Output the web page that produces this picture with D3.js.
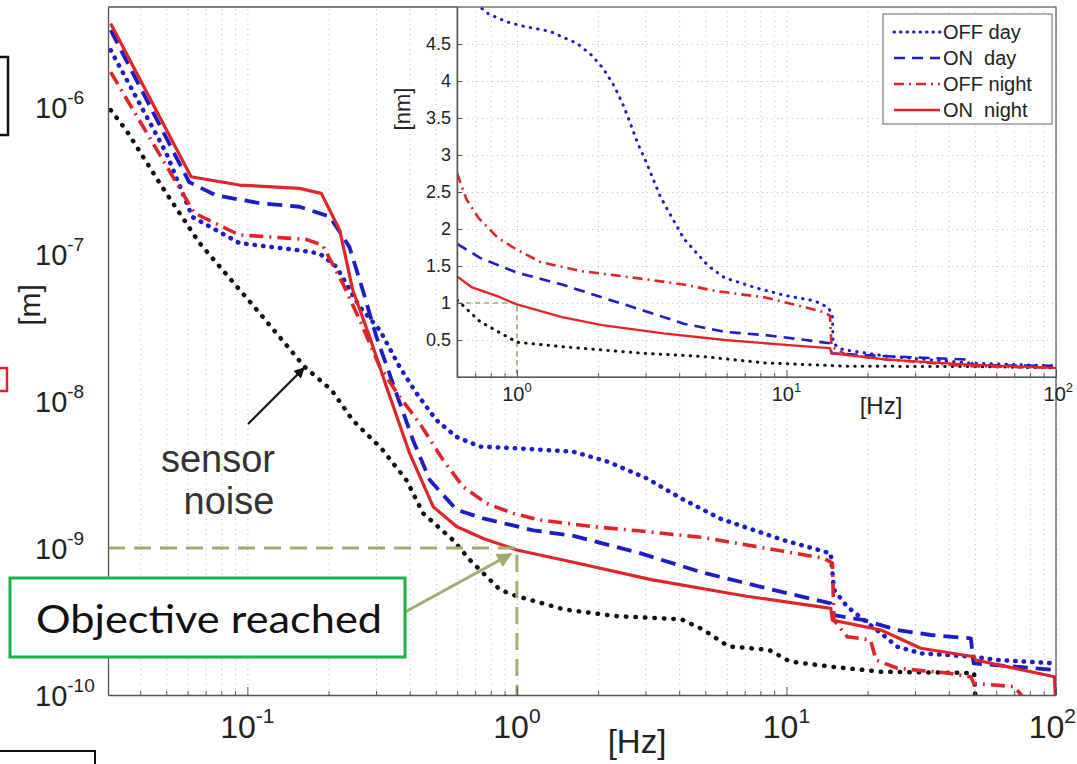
<!DOCTYPE html>
<html>
<head>
<meta charset="utf-8">
<script src="https://cdn.jsdelivr.net/npm/d3@7"></script>
<style>
body{margin:0;background:#fff}
svg{display:block;font-family:"Liberation Sans",Arial,sans-serif}
</style>
</head>
<body>
<div id="chart"></div>
<script>
"use strict";

// Main plot: [frequency Hz, displacement m]
var offDay = [[0.0311,2.44e-6],[0.0374,1.31e-6],[0.05,4.87e-7],[0.0625,1.79e-7],[0.0933,1.19e-7],[0.156,1.06e-7],[0.185,1.01e-7],[0.214,8.2e-8],[0.261,4.38e-8],[0.31,3.04e-8],[0.367,1.71e-8],[0.424,1.13e-8],[0.503,7.4e-9],[0.597,5.7e-9],[0.729,4.9e-9],[1.0,4.77e-9],[1.62,4.52e-9],[2.18,3.86e-9],[3.04,2.97e-9],[4.08,2.17e-9],[5.7,1.58e-9],[9.77,1.13e-9],[14.6,9.2e-10],[15.0,5.2e-10],[16.8,3.99e-10],[22.4,2.63e-10],[25.8,2.13e-10],[31.5,1.92e-10],[49.7,1.82e-10],[60.7,1.73e-10],[100,1.64e-10]];
var onDay = [[0.0311,3.34e-6],[0.0608,3.09e-7],[0.076,2.52e-7],[0.111,2.22e-7],[0.156,2.1e-7],[0.202,1.8e-7],[0.239,1.12e-7],[0.268,5.69e-8],[0.301,2.74e-8],[0.357,1.13e-8],[0.412,5.4e-9],[0.475,2.9e-9],[0.597,1.82e-9],[0.75,1.59e-9],[1.15,1.32e-9],[1.62,1.21e-9],[2.82,9.3e-10],[4.9,6.8e-10],[9.5,5.05e-10],[14.6,4.2e-10],[15.0,3.5e-10],[19.4,3.23e-10],[25.8,2.77e-10],[34.3,2.56e-10],[48.3,2.43e-10],[49.5,1.64e-10],[70,1.56e-10],[100,1.48e-10]];
var offNight = [[0.0311,1.73e-6],[0.0636,1.9e-7],[0.0933,1.35e-7],[0.165,1.26e-7],[0.19,1.15e-7],[0.226,6.3e-8],[0.261,3.56e-8],[0.31,1.71e-8],[0.367,1.07e-8],[0.436,7.05e-9],[0.532,3.97e-9],[0.632,2.61e-9],[0.772,2.01e-9],[0.97,1.72e-9],[1.22,1.55e-9],[1.9,1.4e-9],[2.82,1.31e-9],[4.9,1.18e-9],[9.77,9.5e-10],[13.8,8.5e-10],[14.8,7.9e-10],[15.0,3.23e-10],[16.8,2.49e-10],[20.5,2.37e-10],[21.5,1.73e-10],[25.8,1.52e-10],[39.6,1.41e-10],[48.3,1.33e-10],[49.5,1.2e-10],[70,1.14e-10],[76,9.5e-11]];
var onNight = [[0.0311,3.7e-6],[0.0618,3.36e-7],[0.0933,2.95e-7],[0.156,2.8e-7],[0.188,2.59e-7],[0.22,1.46e-7],[0.246,5.69e-8],[0.284,2.74e-8],[0.328,1.25e-8],[0.40,4.4e-9],[0.489,1.91e-9],[0.597,1.4e-9],[0.75,1.16e-9],[1.0,9.7e-10],[1.62,8.0e-10],[3.15,6.1e-10],[7.1,4.7e-10],[14.6,3.89e-10],[14.8,3.23e-10],[22.4,2.77e-10],[31.5,2.08e-10],[49.7,1.82e-10],[50.3,1.73e-10],[80.7,1.44e-10],[98.6,1.33e-10],[100,8e-11]];
var sensorNoise = [[0.0311,9.55e-7],[0.0355,6.98e-7],[0.0483,2.86e-7],[0.0664,1.19e-7],[0.111,3.97e-8],[0.163,1.71e-8],[0.205,1.19e-8],[0.246,7.4e-9],[0.314,4.77e-9],[0.389,2.9e-9],[0.449,1.72e-9],[0.58,1.13e-9],[0.669,8.3e-10],[0.865,5.2e-10],[1.0,4.7e-10],[1.5,3.82e-10],[2.34,3.44e-10],[4.08,3.27e-10],[4.9,2.79e-10],[6.1,2.14e-10],[8.6,2.03e-10],[10.3,1.69e-10],[14.6,1.56e-10],[22.4,1.44e-10],[49.7,1.41e-10],[50.3,9e-11]];

// Inset: [frequency Hz, displacement nm]
var inOffDay = [[0.6,5.6],[0.729,5.0],[0.782,4.91],[0.915,4.8],[1.056,4.74],[1.33,4.67],[1.55,4.56],[1.67,4.51],[1.89,4.35],[2.09,4.17],[2.28,3.95],[2.45,3.72],[2.59,3.5],[2.82,3.14],[3.03,2.89],[3.4,2.44],[4.16,1.87],[5.13,1.5],[5.9,1.34],[7.78,1.2],[9.93,1.1],[12.7,1.03],[14.3,0.94],[14.8,0.83],[14.9,0.45],[16.2,0.37],[23.7,0.28],[47.5,0.19],[100,0.15]];
var inOnDay = [[0.6,1.8],[0.73,1.61],[1.0,1.41],[1.47,1.25],[2.07,1.075],[2.94,0.9],[4.16,0.72],[5.9,0.61],[8.35,0.566],[11.8,0.5],[14.5,0.455],[14.7,0.32],[23.7,0.28],[47.5,0.235],[49.5,0.16],[100,0.15]];
var inOffNight = [[0.6,2.75],[0.65,2.4],[0.72,2.15],[0.85,1.88],[1.0,1.72],[1.23,1.55],[1.74,1.43],[2.74,1.34],[4.16,1.25],[5.5,1.16],[8.35,1.075],[11.8,0.94],[13.6,0.88],[14.5,0.83],[14.7,0.41],[16.7,0.3],[23.7,0.235],[47.5,0.146],[100,0.124]];
var inOnNight = [[0.6,1.36],[0.682,1.21],[0.87,1.075],[1.0,0.98],[1.47,0.81],[2.07,0.7],[3.5,0.59],[5.9,0.5],[9.93,0.434],[14.5,0.39],[14.7,0.32],[23.7,0.235],[47.5,0.168],[100,0.124]];
var inNoise = [[0.6,1.04],[0.729,0.75],[1.0,0.47],[1.47,0.41],[2.94,0.32],[4.78,0.28],[8.35,0.19],[16.7,0.146],[50,0.14],[100,0.124]];

var seriesNames = ["OFF day", "ON  day", "OFF night", "ON  night"];
var xTickExp = [-1, 0, 1, 2];
var yTickExp = [-6, -7, -8, -9, -10];
var insetYTicks = [0.5, 1, 1.5, 2, 2.5, 3, 3.5, 4, 4.5];
var insetXTickExp = [0, 1, 2];

var W = 1077, H = 764;
var mL = 108, mT = 7, mR = 1056, mB = 695;
var iB = 377;
var BLUE = "#1c1cc8", RED = "#e0242a", OLIVE = "#9fae6f";

var svg = d3.select("#chart").append("svg").attr("width", W).attr("height", H);

var x = d3.scaleLog().domain([0.0304, 100]).range([mL, mR]);
var y = d3.scaleLog().domain([1e-10, 4.8e-6]).range([mB, mT]);
var xi = d3.scaleLog().domain([0.6, 100]).range([x(0.6), mR]);
var yi = d3.scaleLinear().domain([0, 5]).range([iB, mT]);

function logTicks(lo, hi) {
	var out = [];
	for (var e = -3; e <= 2; e++)
		for (var k = 1; k <= 9; k++) {
			var v = k * Math.pow(10, e);
			if (v >= lo * 0.999 && v <= hi * 1.001) out.push(v);
		}
	return out;
}
function isMajor(v) { return Math.abs(Math.log10(v) - Math.round(Math.log10(v))) < 1e-6; }

var defs = svg.append("defs");
defs.append("clipPath").attr("id", "clipMain").append("rect")
	.attr("x", mL).attr("y", mT).attr("width", mR - mL).attr("height", mB - mT);
defs.append("clipPath").attr("id", "clipInset").append("rect")
	.attr("x", xi.range()[0]).attr("y", mT).attr("width", mR - xi.range()[0]).attr("height", iB - mT);

// Partial slide boxes on the left edge
svg.append("rect").attr("x", -60).attr("y", 57).attr("width", 68).attr("height", 78)
	.attr("fill", "none").attr("stroke", "#111").attr("stroke-width", 2.5);
svg.append("rect").attr("x", -30).attr("y", 368).attr("width", 37).attr("height", 23)
	.attr("fill", "none").attr("stroke", "#e8202a").attr("stroke-width", 2.5);
svg.append("rect").attr("x", -10).attr("y", 751).attr("width", 105).attr("height", 60)
	.attr("fill", "none").attr("stroke", "#111").attr("stroke-width", 2);

// Main grid
var xAll = logTicks(0.0304, 100), yAll = logTicks(1e-10, 4.8e-6);
var gGrid = svg.append("g");
gGrid.append("g").attr("transform", "translate(0," + mB + ")")
	.call(d3.axisBottom(x).tickValues(xAll).tickSize(-(mB - mT)).tickFormat(""));
gGrid.append("g").attr("transform", "translate(" + mL + ",0)")
	.call(d3.axisLeft(y).tickValues(yAll).tickSize(-(mR - mL)).tickFormat(""));
gGrid.selectAll(".domain").remove();
gGrid.selectAll(".tick line").attr("stroke", "#b8b8b8").attr("stroke-dasharray", "1 4");

// Main curves
var lineMain = d3.line().x(function(d){ return x(d[0]); }).y(function(d){ return y(d[1]); });
var gMain = svg.append("g").attr("clip-path", "url(#clipMain)");
var mainStyles = [
	{data: sensorNoise, color: "#111", w: 4.5, dash: "0.5 9", cap: "round"},
	{data: offDay, color: BLUE, w: 4.5, dash: "0.5 8", cap: "round"},
	{data: onDay, color: BLUE, w: 3.8, dash: "15 8", cap: "butt"},
	{data: offNight, color: RED, w: 3.6, dash: "14 6 2 6", cap: "butt"},
	{data: onNight, color: RED, w: 3.2, dash: null, cap: "butt"}
];
mainStyles.forEach(function(s){
	gMain.append("path").datum(s.data).attr("d", lineMain)
		.attr("fill", "none").attr("stroke", s.color).attr("stroke-width", s.w)
		.attr("stroke-dasharray", s.dash).attr("stroke-linecap", s.cap)
		.attr("stroke-linejoin", "round");
});

// Objective lines
svg.append("path")
	.attr("d", "M" + mL + "," + y(1e-9) + "H" + x(1) + "V" + mB)
	.attr("fill", "none").attr("stroke", OLIVE).attr("stroke-width", 3).attr("stroke-dasharray", "17 9");

// Main axes with inward ticks
var gAx = svg.append("g");
var bx = gAx.append("g").attr("transform", "translate(0," + mB + ")")
	.call(d3.axisBottom(x).tickValues(xAll).tickSizeOuter(0).tickFormat(""));
bx.selectAll(".tick line").attr("y2", function(d){ return isMajor(d) ? -8 : -4; });
var ly = gAx.append("g").attr("transform", "translate(" + mL + ",0)")
	.call(d3.axisLeft(y).tickValues(yAll).tickSizeOuter(0).tickFormat(""));
ly.selectAll(".tick line").attr("x2", function(d){ return isMajor(d) ? 8 : 4; });
gAx.selectAll(".domain").attr("stroke", "#555").attr("stroke-width", 1.3);
gAx.selectAll(".tick line").attr("stroke", "#555");
gAx.append("line").attr("x1", mL).attr("x2", xi.range()[0]).attr("y1", mT).attr("y2", mT).attr("stroke", "#555").attr("stroke-width", 1.3);
gAx.append("line").attr("x1", mR).attr("x2", mR).attr("y1", iB).attr("y2", mB).attr("stroke", "#555").attr("stroke-width", 1.3);

// Tick labels
var xl = svg.append("g").attr("fill", "#222");
xTickExp.forEach(function(e){
	var last = e === 2;
	var t = xl.append("text").attr("x", last ? W - 1 : x(Math.pow(10, e))).attr("y", 738)
		.attr("text-anchor", last ? "end" : "middle").attr("font-size", 32);
	t.append("tspan").text("10");
	t.append("tspan").attr("dy", -15).attr("font-size", 21).text(e);
});
yTickExp.forEach(function(e){
	var t = xl.append("text").attr("x", 35).attr("y", y(Math.pow(10, e)) + 11)
		.attr("font-size", 29);
	t.append("tspan").text("10");
	t.append("tspan").attr("dy", -14).attr("font-size", 19).text(e);
});
xl.append("text").attr("x", 637).attr("y", 753).attr("text-anchor", "middle")
	.attr("font-size", 33).text("[Hz]");
xl.append("text").attr("transform", "translate(40,305) rotate(-90)").attr("text-anchor", "middle")
	.attr("font-size", 30).text("[m]");

// Sensor noise annotation
defs.append("marker").attr("id", "arrBlack").attr("viewBox", "0 0 10 10").attr("refX", 9).attr("refY", 5)
	.attr("markerWidth", 5).attr("markerHeight", 5).attr("orient", "auto")
	.append("path").attr("d", "M0,0L10,5L0,10z").attr("fill", "#111");
svg.append("line").attr("x1", 248).attr("y1", 424).attr("x2", 304).attr("y2", 368)
	.attr("stroke", "#111").attr("stroke-width", 2.2).attr("marker-end", "url(#arrBlack)");
svg.append("text").attr("x", 218).attr("y", 472).attr("text-anchor", "middle")
	.attr("font-size", 38).attr("fill", "#333").text("sensor");
svg.append("text").attr("x", 229).attr("y", 514).attr("text-anchor", "middle")
	.attr("font-size", 38).attr("fill", "#333").text("noise");

// Objective reached annotation
defs.append("marker").attr("id", "arrOlive").attr("viewBox", "0 0 10 10").attr("refX", 9).attr("refY", 5)
	.attr("markerWidth", 5).attr("markerHeight", 5).attr("orient", "auto")
	.append("path").attr("d", "M0,0L10,5L0,10z").attr("fill", OLIVE);
svg.append("line").attr("x1", 405).attr("y1", 612).attr("x2", x(1) - 6).attr("y2", y(1e-9) + 6)
	.attr("stroke", OLIVE).attr("stroke-width", 3).attr("marker-end", "url(#arrOlive)");
svg.append("rect").attr("x", 10).attr("y", 578).attr("width", 395).attr("height", 79)
	.attr("fill", "#fff").attr("stroke", "#1fb04c").attr("stroke-width", 3);
svg.append("text").attr("x", 36).attr("y", 633).attr("font-family", "Lato, 'Open Sans', sans-serif")
	.attr("font-size", 38).attr("fill", "#111").attr("textLength", 346).attr("lengthAdjust", "spacingAndGlyphs")
	.text("Objective reached");

// Inset
var iL = xi.range()[0];
svg.append("rect").attr("x", iL).attr("y", mT).attr("width", mR - iL).attr("height", iB - mT).attr("fill", "#fff");
var xiAll = logTicks(0.6, 100);
var gIG = svg.append("g");
gIG.append("g").attr("transform", "translate(0," + iB + ")")
	.call(d3.axisBottom(xi).tickValues(xiAll).tickSize(-(iB - mT)).tickFormat(""));
gIG.append("g").attr("transform", "translate(" + iL + ",0)")
	.call(d3.axisLeft(yi).tickValues(insetYTicks).tickSize(-(mR - iL)).tickFormat(""));
gIG.selectAll(".domain").remove();
gIG.selectAll(".tick line").attr("stroke", "#bdbdbd").attr("stroke-dasharray", "1 4");

var lineInset = d3.line().x(function(d){ return xi(d[0]); }).y(function(d){ return yi(d[1]); });
var gIn = svg.append("g").attr("clip-path", "url(#clipInset)");
var insetStyles = [
	{data: inNoise, color: "#111", w: 3, dash: "0.5 7", cap: "round"},
	{data: inOffDay, color: BLUE, w: 3, dash: "0.5 7", cap: "round"},
	{data: inOnDay, color: BLUE, w: 2.6, dash: "11 7", cap: "butt"},
	{data: inOffNight, color: RED, w: 2.6, dash: "10 5 2 5", cap: "butt"},
	{data: inOnNight, color: RED, w: 2.3, dash: null, cap: "butt"}
];
gIn.append("path")
	.attr("d", "M" + iL + "," + yi(1) + "H" + xi(1) + "V" + iB)
	.attr("fill", "none").attr("stroke", OLIVE).attr("stroke-width", 1.6).attr("stroke-dasharray", "5 4");
insetStyles.forEach(function(s){
	gIn.append("path").datum(s.data).attr("d", lineInset)
		.attr("fill", "none").attr("stroke", s.color).attr("stroke-width", s.w)
		.attr("stroke-dasharray", s.dash).attr("stroke-linecap", s.cap)
		.attr("stroke-linejoin", "round");
});

var gIA = svg.append("g");
var ibx = gIA.append("g").attr("transform", "translate(0," + iB + ")")
	.call(d3.axisBottom(xi).tickValues(xiAll).tickSizeOuter(0).tickFormat(""));
ibx.selectAll(".tick line").attr("y2", function(d){ return isMajor(d) ? -7 : -4; });
var ily = gIA.append("g").attr("transform", "translate(" + iL + ",0)")
	.call(d3.axisLeft(yi).tickValues(insetYTicks).tickSizeOuter(0).tickFormat(""));
ily.selectAll(".tick line").attr("x2", 5);
gIA.selectAll(".domain").attr("stroke", "#555").attr("stroke-width", 1.2);
gIA.selectAll(".tick line").attr("stroke", "#555");
gIA.append("rect").attr("x", iL).attr("y", mT).attr("width", mR - iL).attr("height", iB - mT)
	.attr("fill", "none").attr("stroke", "#555").attr("stroke-width", 1.2);

var il = svg.append("g").attr("fill", "#222");
insetYTicks.forEach(function(v){
	il.append("text").attr("x", iL - 6).attr("y", yi(v) + 6).attr("text-anchor", "end")
		.attr("font-size", 18).text(v);
});
insetXTickExp.forEach(function(e){
	var last = e === 2;
	var t = il.append("text").attr("x", last ? W - 4 : xi(Math.pow(10, e))).attr("y", 401)
		.attr("text-anchor", last ? "end" : "middle").attr("font-size", 20);
	t.append("tspan").text("10");
	t.append("tspan").attr("dy", -9).attr("font-size", 13).text(e);
});
il.append("text").attr("x", 881).attr("y", 414).attr("text-anchor", "middle")
	.attr("font-size", 24).text("[Hz]");
il.append("text").attr("transform", "translate(410,109) rotate(-90)").attr("text-anchor", "middle")
	.attr("font-size", 22).text("[nm]");

// Legend
var lg = svg.append("g");
lg.append("rect").attr("x", 883).attr("y", 14).attr("width", 169).attr("height", 110)
	.attr("fill", "#fff").attr("stroke", "#666").attr("stroke-width", 1);
var legStyles = insetStyles.slice(1);
seriesNames.forEach(function(n, i){
	var cy = 32 + i * 26, s = legStyles[i];
	lg.append("line").attr("x1", 894).attr("x2", 940).attr("y1", cy).attr("y2", cy)
		.attr("stroke", s.color).attr("stroke-width", s.w).attr("stroke-dasharray", s.dash === "0.5 7" ? "0.5 6" : s.dash)
		.attr("stroke-linecap", s.cap);
	lg.append("text").attr("x", 943).attr("y", cy + 7).attr("font-size", 20).attr("fill", "#222")
		.style("white-space", "pre").text(n);
});
</script>
</body>
</html>
